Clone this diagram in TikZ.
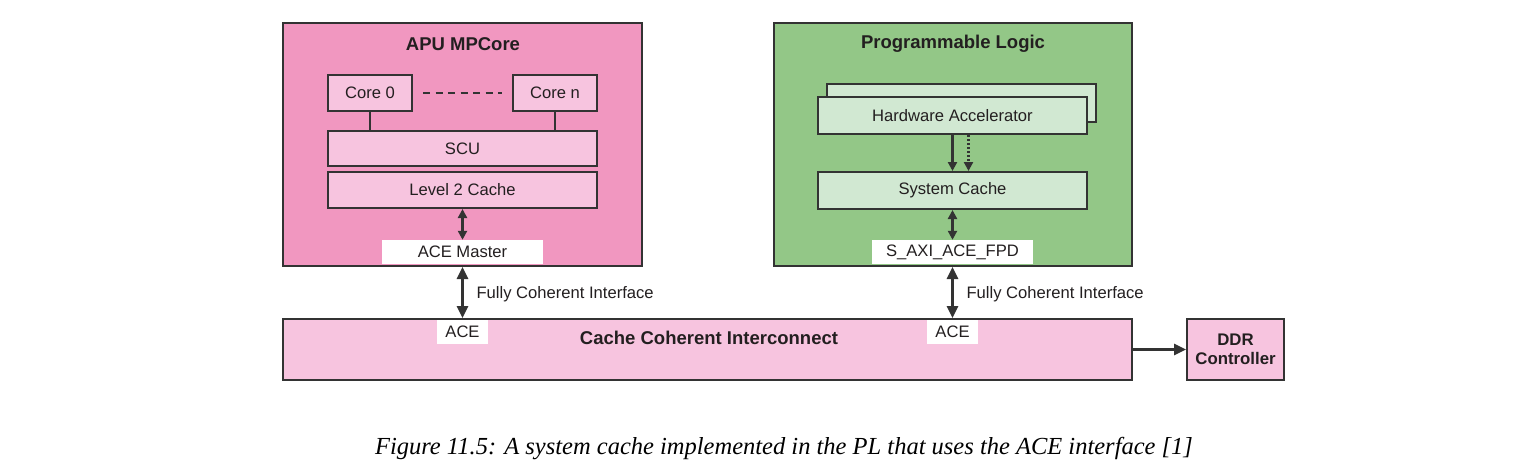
\documentclass[tikz,border=0pt]{standalone}
\usepackage{fontspec}
\setmainfont{Liberation Sans}
\newfontfamily\capfont{Liberation Serif}
\usetikzlibrary{arrows.meta}
\definecolor{apupink}{HTML}{F197C0}
\definecolor{lightpink}{HTML}{F7C4DF}
\definecolor{plgreen}{HTML}{93C787}
\definecolor{lightgreen}{HTML}{D1E8D2}
\definecolor{edge}{HTML}{333333}
\definecolor{txt}{HTML}{231F20}
\tikzset{
  box/.style={draw=edge, line width=2pt, inner sep=0pt, text=txt, font=\fontsize{16.6}{19}\selectfont},
  bigbox/.style={box},
  whitebox/.style={fill=white, inner sep=0pt, text=txt, font=\fontsize{16.6}{19}\selectfont},
  title/.style={text=txt, font=\fontsize{18.5}{22}\selectfont\bfseries},
  lbl/.style={text=txt, font=\fontsize{16.6}{19}\selectfont, anchor=west},
  conn/.style={draw=edge, line width=2.4pt},
  smallarr/.style={conn, {Triangle[length=9pt,width=9pt]}-{Triangle[length=9pt,width=9pt]}},
  downarr/.style={conn, -{Triangle[length=9pt,width=9pt]}},
  bigarr/.style={conn, line width=2.6pt, {Triangle[length=12pt,width=11pt]}-{Triangle[length=12pt,width=11pt]}},
  rightarr/.style={conn, line width=2.6pt, -{Triangle[length=12pt,width=11pt]}},
}
\begin{document}
\begin{tikzpicture}[x=1pt,y=-1pt]
\useasboundingbox[fill=white] (0,0) rectangle (1517,469);
% APU
\node[bigbox, fill=apupink, minimum width=359pt, minimum height=243pt] (apu) at (462.5,144.5) {};
\node[title] (aputitle) at (463,44) {APU MPCore};
\node[box, fill=lightpink, minimum width=84pt, minimum height=36pt] (core0) at (370,93) {Core 0};
\node[box, fill=lightpink, minimum width=84pt, minimum height=36pt] (coren) at (555,93) {Core n};
\node[box, fill=lightpink, minimum width=269pt, minimum height=35pt] (scu) at (462.5,148.5) {SCU};
\node[box, fill=lightpink, minimum width=269pt, minimum height=36pt] (l2) at (462.5,190) {Level 2 Cache};
\node[whitebox, minimum width=161pt, minimum height=24pt] (acem) at (462.5,252) {ACE Master};
\draw[conn, line width=2pt, dash pattern=on 7pt off 5.5pt] ([xshift=10pt]core0.east) -- ([xshift=-10pt]coren.west);
\draw[conn, line width=2pt] (core0.south) -- (core0.south |- scu.north);
\draw[conn, line width=2pt] (coren.south) -- (coren.south |- scu.north);
\draw[smallarr] (l2.south) -- (acem.north);
% PL
\node[bigbox, fill=plgreen, minimum width=358pt, minimum height=243pt] (pl) at (953,144.5) {};
\node[title] (pltitle) at (953,44) {Programmable Logic};
\node[box, fill=lightgreen, minimum width=269pt, minimum height=38pt] (hwback) at (961.5,103) {};
\node[box, fill=lightgreen, minimum width=269pt, minimum height=37pt] (hw) at (952.5,115.5) {Hardware Accelerator};
\node[box, fill=lightgreen, minimum width=269pt, minimum height=37pt] (sc) at (952.5,190.5) {System Cache};
\node[whitebox, minimum width=161pt, minimum height=24pt] (saxi) at (952.5,252) {S\_AXI\_ACE\_FPD};
\draw[downarr] (hw.south) -- (sc.north);
\draw[downarr, dash pattern=on 2pt off 2pt] ([xshift=16pt]hw.south) -- ([xshift=16pt]sc.north);
\draw[smallarr] (sc.south) -- (saxi.north);
% bottom
\node[bigbox, fill=lightpink, minimum width=849pt, minimum height=61pt] (cci) at (707.5,349.5) {};
\node[title] (ccititle) at (709,338) {Cache Coherent Interconnect};
\node[whitebox, minimum width=51pt, minimum height=24pt] (ace1) at (462.5,332) {ACE};
\node[whitebox, minimum width=51pt, minimum height=24pt] (ace2) at (952.5,332) {ACE};
\node[bigbox, fill=lightpink, minimum width=97pt, minimum height=61pt, align=center,
      font=\fontsize{16.8}{19.5}\selectfont\bfseries] (ddr) at (1235.5,349.5) {DDR\\Controller};
\draw[bigarr] (apu.south -| acem.south) -- (cci.north -| ace1.north);
\draw[bigarr] (pl.south -| saxi.south) -- (cci.north -| ace2.north);
\node[lbl] (fci1) at (473,294) {Fully Coherent Interface};
\node[lbl] (fci2) at (963,294) {Fully Coherent Interface};
\draw[rightarr] (cci.east |- ddr.west) -- (ddr.west);
% caption
\node[text=black, font=\capfont\itshape\fontsize{24.5}{28}\selectfont] (cap) at (784,449)
  {Figure 11.5: A system cache implemented in the PL that uses the ACE interface [1]};
\end{tikzpicture}
\end{document}
